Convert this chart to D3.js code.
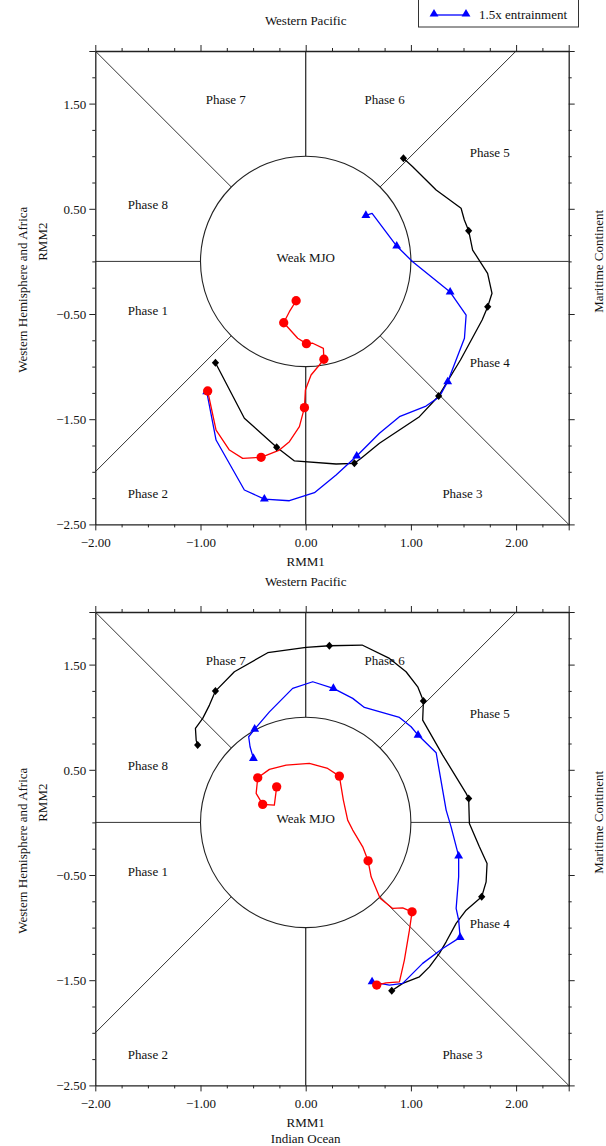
<!DOCTYPE html>
<html>
<head>
<meta charset="utf-8">
<script src="https://cdn.jsdelivr.net/npm/d3@7"></script>
<style>
  html, body { margin: 0; padding: 0; background: #fff; }
  svg { display: block; }
  text { font-family: "Liberation Serif", "Times New Roman", serif; fill: #111; }
</style>
</head>
<body>
<script>
// ---------------- DATA ----------------
const xMajorTicks = [-2, -1, 0, 1, 2];
const yMajorTicks = [1.5, 0.5, -0.5, -1.5, -2.5];
const phaseNames = ["Phase 1","Phase 2","Phase 3","Phase 4","Phase 5","Phase 6","Phase 7","Phase 8"];
const phaseLabelX = [-1.5, -1.5, 1.49, 1.75, 1.75, 0.75, -0.76, -1.5];
const phaseLabelY = [-0.47, -2.21, -2.21, -0.96, 1.04, 1.54, 1.54, 0.54];

// Top panel (Western Pacific)
const topBlack = [[-0.858,-0.963],[-0.583,-1.491],[-0.276,-1.767],[-0.107,-1.897],[0.289,-1.926],[0.463,-1.919],
  [0.527,-1.872],[0.701,-1.729],[1.081,-1.476],[1.264,-1.279],[1.471,-0.937],[1.677,-0.557],[1.73,-0.431],
  [1.771,-0.303],[1.729,-0.113],[1.587,0.108],[1.549,0.292],[1.508,0.394],[1.477,0.505],[1.24,0.679],
  [1.017,0.9],[0.929,0.98]];
const topBlackMarks = [0,2,5,9,12,16,21];
const topBlue = [[-0.941,-1.239],[-0.852,-1.698],[-0.583,-2.173],[-0.393,-2.259],[-0.155,-2.275],[0.083,-2.199],
  [0.289,-2.03],[0.485,-1.85],[0.701,-1.634],[0.891,-1.476],[1.144,-1.375],[1.271,-1.286],[1.35,-1.144],
  [1.509,-0.731],[1.525,-0.51],[1.373,-0.291],[1.017,-0.003],[0.865,0.146],[0.631,0.457],[0.572,0.438]];
const topBlueMarks = [0,3,7,12,15,17,19];
const topRed = [[-0.932,-1.232],[-0.852,-1.603],[-0.725,-1.793],[-0.599,-1.872],[-0.424,-1.862],[-0.25,-1.793],
  [-0.155,-1.714],[-0.06,-1.571],[-0.012,-1.39],[-0.003,-1.222],[0.051,-1.08],[0.13,-0.985],[0.173,-0.93],
  [0.168,-0.826],[0.067,-0.778],[0.007,-0.782],[-0.076,-0.731],[-0.209,-0.583],[-0.155,-0.478],[-0.091,-0.374]];
const topRedMarks = [0,4,8,12,15,17,19];

// Bottom panel (Indian Ocean)
const botBlack = [[0.818,-1.601],[0.922,-1.53],[1.081,-1.468],[1.176,-1.373],[1.271,-1.245],[1.335,-1.135],
  [1.43,-0.96],[1.525,-0.834],[1.673,-0.707],[1.715,-0.565],[1.724,-0.39],[1.651,-0.232],[1.556,-0.01],
  [1.549,0.228],[1.525,0.276],[1.302,0.64],[1.112,0.972],[1.119,1.153],[1.065,1.289],[0.954,1.432],
  [0.796,1.559],[0.536,1.686],[0.225,1.679],[0.004,1.663],[-0.361,1.613],[-0.678,1.432],[-0.858,1.248],
  [-0.915,1.115],[-0.979,0.989],[-1.048,0.893],[-1.041,0.78],[-1.027,0.735]];
const botBlackMarks = [0,8,13,17,22,26,31];
const botBlue = [[0.631,-1.515],[0.796,-1.546],[0.922,-1.53],[1.112,-1.34],[1.302,-1.198],[1.468,-1.093],
  [1.454,-0.929],[1.43,-0.818],[1.454,-0.517],[1.454,-0.32],[1.382,-0.042],[1.335,0.117],[1.24,0.662],
  [1.068,0.83],[1.002,0.909],[0.891,0.998],[0.558,1.093],[0.447,1.179],[0.263,1.274],[0.067,1.337],
  [-0.124,1.274],[-0.345,1.051],[-0.485,0.887],[-0.542,0.814],[-0.529,0.719],[-0.497,0.608]];
const botBlueMarks = [0,5,9,13,18,22,25];
const botRed = [[0.675,-1.546],[0.764,-1.525],[0.891,-1.515],[0.938,-1.309],[0.986,-1.024],[1.011,-0.85],
  [0.922,-0.812],[0.827,-0.818],[0.707,-0.722],[0.622,-0.517],[0.593,-0.365],[0.542,-0.232],[0.447,-0.073],
  [0.399,0.022],[0.358,0.212],[0.32,0.44],[0.209,0.513],[0.035,0.561],[-0.186,0.545],[-0.345,0.504],
  [-0.456,0.424],[-0.471,0.276],[-0.409,0.171],[-0.298,0.164],[-0.276,0.338]];
const botRedMarks = [0,5,10,15,20,22,24];

const legendLabel = "1.5x entrainment";

// ---------------- DRAWING ----------------
const W = 606, H = 1146;
const SERIF = '"Liberation Serif", "Times New Roman", serif';
const svg = d3.select("body").append("svg").attr("width", W).attr("height", H)
  .attr("font-family", SERIF);

const x = d3.scaleLinear().domain([-2, 2.5]).range([95.3, 568.7]);
const rUnit = x(1) - x(0);

function panel(top, opts) {
  const y = d3.scaleLinear().domain([-2.5, 2]).range([top + 4.5 * rUnit, top]);
  const g = svg.append("g");
  const x0 = x(-2), x1 = x(2.5), y0 = y(2), y1 = y(-2.5);
  const cid = "clip" + Math.round(top);
  svg.append("clipPath").attr("id", cid).append("rect")
    .attr("x", x0).attr("y", y0).attr("width", x1 - x0).attr("height", y1 - y0);

  const s = Math.SQRT1_2;
  const segs = [
    [[1, 0], [2.5, 0]], [[-1, 0], [-2, 0]], [[0, 1], [0, 2]], [[0, -1], [0, -2.5]],
    [[s, s], [2, 2]], [[-s, s], [-2, 2]], [[-s, -s], [-2, -2]], [[s, -s], [2.5, -2.5]]
  ];
  g.append("g").selectAll("line").data(segs).join("line")
    .attr("x1", d => x(d[0][0])).attr("y1", d => y(d[0][1]))
    .attr("x2", d => x(d[1][0])).attr("y2", d => y(d[1][1]))
    .attr("stroke", "#333").attr("stroke-width", (d, i) => i === 2 || i === 3 ? 1.3 : 1);
  g.append("circle").attr("cx", x(0)).attr("cy", y(0)).attr("r", rUnit)
    .attr("fill", "none").attr("stroke", "#222").attr("stroke-width", 1.1);

  g.append("g").selectAll("text").data(phaseNames).join("text")
    .attr("x", (d, i) => x(phaseLabelX[i])).attr("y", (d, i) => y(phaseLabelY[i]))
    .attr("dy", "0.35em").attr("text-anchor", "middle").attr("font-size", 13).text(d => d);
  g.append("text").attr("x", x(0)).attr("y", y(0.04)).attr("dy", "0.35em")
    .attr("text-anchor", "middle").attr("font-size", 13).text("Weak MJO");

  const minorX = d3.range(-2, 2.5001, 0.25);
  const minorY = d3.range(-2.5, 2.0001, 0.25);
  const isMaj = (arr, v) => arr.some(t => Math.abs(t - v) < 1e-6);
  function styleAxis(sel) {
    sel.attr("font-family", SERIF);
    sel.select(".domain").attr("stroke", "#222").attr("stroke-width", 1.3);
    sel.selectAll(".tick line").attr("stroke", "#222").attr("stroke-width", 1);
    sel.selectAll("text").attr("font-size", 13).attr("fill", "#111");
  }
  const bx = g.append("g").attr("transform", `translate(0,${y1})`)
    .call(d3.axisBottom(x).tickValues(minorX).tickSizeOuter(0).tickSize(0).tickFormat(""));
  bx.selectAll(".tick").append("line").attr("y2", d => isMaj(xMajorTicks.concat([2.5]), d) ? 6 : 3);
  bx.selectAll(".tick").filter(d => isMaj(xMajorTicks, d)).append("text")
    .attr("y", 18).attr("dy", "0.35em").attr("text-anchor", "middle").text(d => d3.format(".2f")(d));
  styleAxis(bx);
  const tx = g.append("g").attr("transform", `translate(0,${y0})`)
    .call(d3.axisTop(x).tickValues(minorX).tickSizeOuter(0).tickSize(0).tickFormat(""));
  tx.selectAll(".tick").append("line").attr("y2", d => isMaj(xMajorTicks.concat([2.5]), d) ? -6 : -3);
  styleAxis(tx);
  const ly = g.append("g").attr("transform", `translate(${x0},0)`)
    .call(d3.axisLeft(y).tickValues(minorY).tickSizeOuter(0).tickSize(0).tickFormat(""));
  ly.selectAll(".tick").append("line").attr("x2", d => isMaj(yMajorTicks.concat([2]), d) ? -6 : -3);
  ly.selectAll(".tick").filter(d => isMaj(yMajorTicks, d)).append("text")
    .attr("x", -9).attr("dy", "0.35em").attr("text-anchor", "end").text(d => d3.format(".2f")(d));
  styleAxis(ly);
  const ry = g.append("g").attr("transform", `translate(${x1},0)`)
    .call(d3.axisRight(y).tickValues(minorY).tickSizeOuter(0).tickSize(0).tickFormat(""));
  ry.selectAll(".tick").append("line").attr("x2", d => isMaj(yMajorTicks.concat([2]), d) ? 6 : 3);
  styleAxis(ry);

  g.append("text").attr("x", x(0)).attr("y", y1 + 37).attr("dy", "0.35em")
    .attr("text-anchor", "middle").attr("font-size", 13).text("RMM1");
  if (opts.bottomLabel) {
    g.append("text").attr("x", x(0)).attr("y", y1 + 53).attr("dy", "0.35em")
      .attr("text-anchor", "middle").attr("font-size", 13).text(opts.bottomLabel);
  }
  g.append("text").attr("x", x(0)).attr("y", y0 - 31).attr("dy", "0.35em")
    .attr("text-anchor", "middle").attr("font-size", 13).text("Western Pacific");
  const cy = (y0 + y1) / 2;
  g.append("text").attr("transform", `translate(22,${cy + 2}) rotate(-90)`).attr("dy", "0.35em")
    .attr("text-anchor", "middle").attr("font-size", 13).text("Western Hemisphere and Africa");
  g.append("text").attr("transform", `translate(42,${cy - 46}) rotate(-90)`).attr("dy", "0.35em")
    .attr("text-anchor", "middle").attr("font-size", 13).text("RMM2");
  g.append("text").attr("transform", `translate(599,${y(0)}) rotate(-90)`).attr("dy", "0.32em")
    .attr("text-anchor", "middle").attr("font-size", 13).text("Maritime Continent");

  const line = d3.line().x(d => x(d[0])).y(d => y(d[1]));
  const series = [
    { pts: opts.black, marks: opts.blackMarks, color: "#000", kind: "diamond" },
    { pts: opts.blue, marks: opts.blueMarks, color: "#0000ff", kind: "tri" },
    { pts: opts.red, marks: opts.redMarks, color: "#ff0000", kind: "circle" }
  ];
  const dg = g.append("g").attr("clip-path", `url(#${cid})`);
  series.forEach(sr => {
    dg.append("path").attr("d", line(sr.pts)).attr("fill", "none")
      .attr("stroke", sr.color).attr("stroke-width", 1.3).attr("stroke-linejoin", "round");
  });
  series.forEach(sr => {
    const mp = sr.marks.map(i => sr.pts[i]);
    const sel = dg.append("g").selectAll("path").data(mp).join("path")
      .attr("transform", d => `translate(${x(d[0])},${y(d[1])})`)
      .attr("fill", sr.color);
    if (sr.kind === "diamond") sel.attr("d", "M0,-4L3.6,0L0,4L-3.6,0Z");
    else if (sr.kind === "tri") sel.attr("d", d3.symbol(d3.symbolTriangle, 34)());
    else sel.attr("d", d3.symbol(d3.symbolCircle, 68)());
  });
}

panel(51, { black: topBlack, blackMarks: topBlackMarks, blue: topBlue, blueMarks: topBlueMarks,
  red: topRed, redMarks: topRedMarks, bottomLabel: null });
panel(612, { black: botBlack, blackMarks: botBlackMarks, blue: botBlue, blueMarks: botBlueMarks,
  red: botRed, redMarks: botRedMarks, bottomLabel: "Indian Ocean" });

const lg = svg.append("g");
lg.append("rect").attr("x", 418.5).attr("y", -20).attr("width", 160).attr("height", 47)
  .attr("fill", "#fff").attr("stroke", "#333").attr("stroke-width", 1);
lg.append("line").attr("x1", 434).attr("x2", 466).attr("y1", 15).attr("y2", 15)
  .attr("stroke", "#0000ff").attr("stroke-width", 1.3);
[434, 466].forEach(px => lg.append("path").attr("d", d3.symbol(d3.symbolTriangle, 34)())
  .attr("transform", `translate(${px},14)`).attr("fill", "#0000ff"));
lg.append("text").attr("x", 479).attr("y", 14).attr("dy", "0.35em").attr("font-size", 13).text(legendLabel);
</script>
</body>
</html>
